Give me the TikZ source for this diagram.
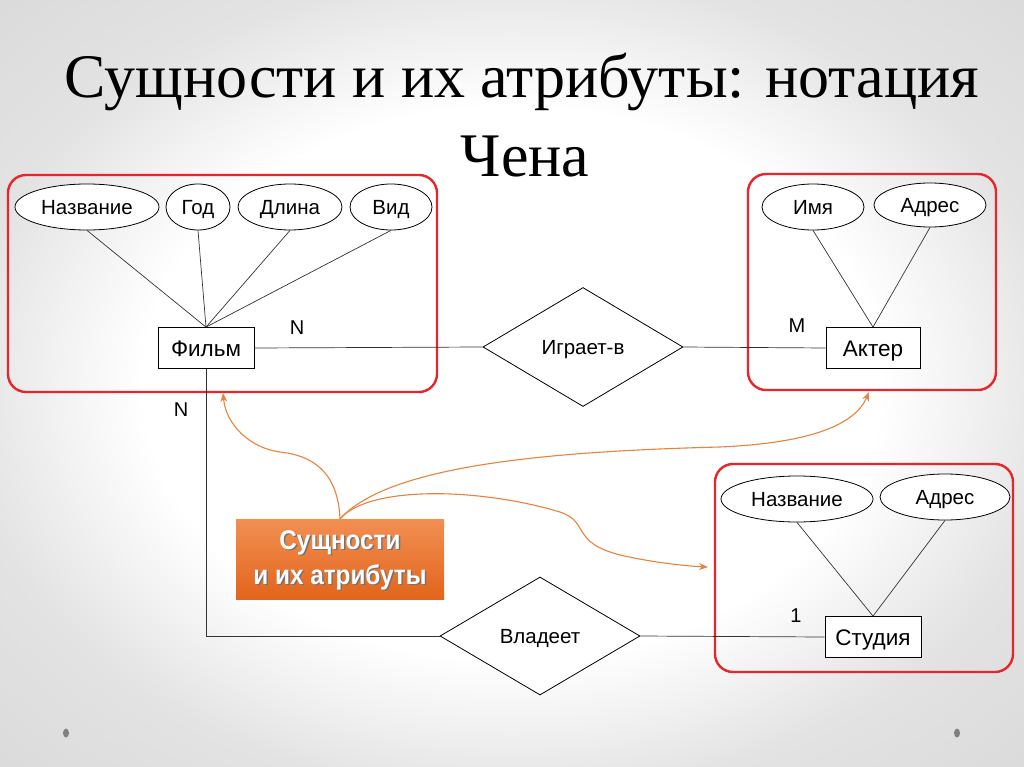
\documentclass[tikz,border=0pt]{standalone}
\usepackage{fontspec}
\setmainfont{Liberation Sans}
\newfontfamily\titlefont{Liberation Serif}
\newfontfamily\obfont[FakeStretch=0.9]{Liberation Sans}
\usetikzlibrary{shapes.geometric,arrows.meta}
\pgfdeclareradialshading{bgshade}{\pgfpoint{0bp}{0bp}}{color(0bp)=(white); color(18bp)=(white); color(27bp)=(black!11); color(50bp)=(black!20)}
\definecolor{boxred}{HTML}{E8262A}
\definecolor{arrorange}{HTML}{E8823C}
\definecolor{obtop}{HTML}{F28F52}
\definecolor{obbot}{HTML}{E2651C}
\begin{document}
\begin{tikzpicture}[x=1pt,y=-1pt,
  attr/.style={ellipse, draw=black, line width=0.8pt, fill=white, minimum width=#1, minimum height=46pt, inner sep=0pt, text height=14.8pt, text depth=0pt, font=\fontsize{20.5}{24}\selectfont},
  entity/.style={draw=black, line width=0.8pt, fill=white, minimum width=#1, minimum height=41pt, inner sep=0pt, text height=16.2pt, text depth=0pt, font=\fontsize{22.5}{26}\selectfont},
  rel/.style={diamond, draw=black, line width=0.8pt, fill=white, minimum width=200pt, minimum height=#1, inner sep=0pt, text height=14.8pt, text depth=0pt, font=\fontsize{20.5}{24}\selectfont},
  link/.style={draw=black!80, line width=0.7pt},
  group/.style={draw=boxred, line width=2.4pt, rounded corners=18pt},
  card/.style={font=\fontsize{20}{24}\selectfont, text height=14.4pt, text depth=0pt, inner sep=0pt},
  pointer/.style={draw=arrorange, line width=1.1pt, -{Stealth[length=9pt,width=7pt]}},
  dot/.style={fill=black!50, draw=none}
]
\useasboundingbox (0,0) rectangle (1024,767);
\shade[shading=bgshade] (0,0) rectangle (1024,767);
\fill[dot] (66,733) ellipse (3 and 4.5);
\fill[dot] (957,733) ellipse (3 and 4.5);

% title
\node[font=\titlefont\fontsize{62}{70}\selectfont, anchor=base] (t1) at (522,98) {Сущности и их атрибуты: нотация};
\node[font=\titlefont\fontsize{62}{70}\selectfont, anchor=base] (t2) at (525,177) {Чена};

% group boxes
\draw[group] (8,175) rectangle (437,392);
\draw[group] (748,174) rectangle (996,390);
\draw[group] (715,464) rectangle (1013,672);

% entities
\node[entity=96pt] (film) at (206,348) {Фильм};
\node[entity=94pt] (actor) at (873,348) {Актер};
\node[entity=96pt] (studio) at (873,637) {Студия};

% attributes
\node[attr=144pt] (fname) at (87,207) {Название};
\node[attr=64pt] (fyear) at (198,207) {Год};
\node[attr=104pt] (flen) at (290,207) {Длина};
\node[attr=82pt] (ftype) at (391,207) {Вид};
\node[attr=102pt] (aname) at (813,207) {Имя};
\node[attr=112pt, minimum height=44pt] (aaddr) at (930,205) {Адрес};
\node[attr=152pt] (sname) at (797,499) {Название};
\node[attr=130pt] (saddr) at (945,497) {Адрес};

% relationships
\node[rel=119pt] (plays) at (583,347) {Играет-в};
\node[rel=118pt] (owns) at (540,636) {Владеет};

% attribute links
\foreach \a in {fname,fyear,flen,ftype} \draw[link] (\a.south) -- (film.north);
\foreach \a in {aname,aaddr} \draw[link] (\a.south) -- (actor.north);
\foreach \a in {sname,saddr} \draw[link] (\a.south) -- (studio.north);

% relationship links
\draw[link] (film.east) -- (plays.west);
\draw[link] (plays.east) -- (actor.west);
\draw[link] (film.south) |- (owns.west);
\draw[link] (owns.east) -- (studio.west);

% cardinalities
\node[card] (c1) at (297,327) {N};
\node[card] (c2) at (797,325) {M};
\node[card] (c3) at (181,409) {N};
\node[card] (c4) at (796,615) {1};

% orange callout
\shade[top color=obtop, bottom color=obbot] (236,519) rectangle (444,599);
\node[minimum width=208pt, minimum height=80pt, inner sep=0pt] (ob) at (340,559) {};
\node[font=\obfont\bfseries\fontsize{27}{35}\selectfont, text=black!55, align=center] (obs) at (341.5,561.5) {Сущности\\и их атрибуты};
\node[font=\obfont\bfseries\fontsize{27}{35}\selectfont, text=white, align=center] (obt) at (340,560) {Сущности\\и их атрибуты};

\coordinate (p1) at (223,393);
\coordinate (p2) at (869,392);
\coordinate (p3) at (708,567);
\draw[pointer] (ob.north) .. controls (338,470) and (310,455) .. (280,452) .. controls (250,448) and (226,425) .. (p1);
\draw[pointer] (ob.north) .. controls (385,470) and (520,452) .. (720,447) .. controls (810,443) and (855,425) .. (p2);
\draw[pointer] (ob.north) .. controls (370,485) and (480,488) .. (560,512) .. controls (590,522) and (570,542) .. (620,555) .. controls (650,562) and (685,566) .. (p3);
\end{tikzpicture}
\end{document}
